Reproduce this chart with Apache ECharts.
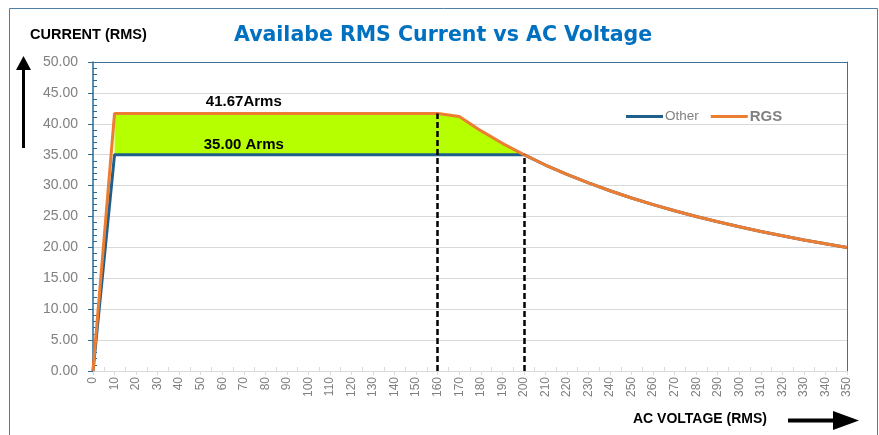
<!DOCTYPE html>
<html>
<head>
<meta charset="utf-8">
<script src="https://cdn.jsdelivr.net/npm/echarts@6/dist/echarts.min.js"></script>
<style>
  html, body { margin: 0; padding: 0; background: #fff; }
  #chart { width: 879px; height: 435px; }
</style>
</head>
<body>
<div id="chart"></div>
<script>
(function() {
  // voltage points (x) and currents (y)
  var voltRGS = [0, 10, 160, 170, 180, 190, 200, 210, 220, 230, 240, 250, 260, 270, 280, 290, 300, 310, 320, 330, 340, 350];
  var currRGS = [0, 41.67, 41.67, 41.18, 38.89, 36.84, 35.00, 33.33, 31.82, 30.43, 29.17, 28.00, 26.92, 25.93, 25.00, 24.14, 23.33, 22.58, 21.88, 21.21, 20.59, 20.00];

  var voltOther = [0, 10, 200, 210, 220, 230, 240, 250, 260, 270, 280, 290, 300, 310, 320, 330, 340, 350];
  var currOther = [0, 35.00, 35.00, 33.33, 31.82, 30.43, 29.17, 28.00, 26.92, 25.93, 25.00, 24.14, 23.33, 22.58, 21.88, 21.21, 20.59, 20.00];

  // green band between the two curves
  var voltBand = [10, 160, 170, 180, 190, 200];
  var bandBase = [35, 35, 35, 35, 35, 35];
  var bandTop = [41.67, 41.67, 41.18, 38.89, 36.84, 35.00];

  // dashed markers and text notes
  var dropLines = [[160, 41.67], [200, 35.00]];
  var notes = [[70, 43.6, '41.67Arms'], [70, 36.6, '35.00 Arms']];

  var zip = function(xs, ys) {
    return xs.map(function(x, i) { return [x, ys[i]]; });
  };

  var myChart = echarts.init(document.getElementById('chart'));

  var gridLine = '#d9d9d9';
  var frameBlue = '#3f7199';
  var axisBlue = '#2a6a96';
  var labelGrey = '#808080';

  var option = {
    animation: false,
    backgroundColor: '#fff',
    title: {
      text: 'Availabe RMS Current vs AC Voltage',
      left: 229,
      top: 20,
      textStyle: { color: '#0070c0', fontSize: 20.5, fontWeight: 'bold', fontFamily: 'DejaVu Sans' }
    },
    legend: {
      data: [
        { name: 'Other', textStyle: { fontSize: 13.5 } },
        { name: 'RGS', textStyle: { fontSize: 15, fontWeight: 'bold' } }
      ],
      left: 621,
      top: 104,
      icon: 'rect',
      itemWidth: 37,
      itemHeight: 3,
      itemGap: 12,
      textStyle: { color: labelGrey, fontFamily: 'Liberation Sans', padding: [0, 0, 0, -3] }
    },
    grid: { left: 93, right: 32, top: 62, bottom: 64 },
    xAxis: [
      {
        type: 'value', min: 0, max: 350, interval: 10, position: 'bottom',
        axisLine: { show: true, onZero: false, lineStyle: { color: gridLine } },
        axisTick: { show: true, length: 4, lineStyle: { color: gridLine } },
        axisLabel: { rotate: 90, color: labelGrey, fontSize: 12, margin: 6, fontFamily: 'Liberation Sans' },
        splitLine: { show: false }
      },
      {
        type: 'value', min: 0, max: 350, interval: 10, position: 'bottom',
        axisLine: { show: false, onZero: false },
        axisTick: { show: false, inside: true },
        axisLabel: { show: false },
        minorTick: { show: true, splitNumber: 2, length: 4, lineStyle: { color: gridLine } },
        splitLine: { show: false }
      },
      {
        type: 'value', min: 0, max: 350, position: 'top',
        axisLine: { show: true, onZero: false, lineStyle: { color: frameBlue } },
        axisTick: { show: false },
        axisLabel: { show: false },
        splitLine: { show: false }
      }
    ],
    yAxis: [
      {
        type: 'value', min: 0, max: 50, interval: 5, position: 'left',
        axisLine: { show: true, onZero: false, lineStyle: { color: axisBlue, width: 1.5 } },
        axisTick: { show: true, length: 5, lineStyle: { color: axisBlue } },
        axisLabel: {
          color: labelGrey, fontSize: 14, margin: 15, fontFamily: 'Liberation Sans',
          formatter: function(v) { return v.toFixed(2); }
        },
        splitLine: { show: true, lineStyle: { color: gridLine } }
      },
      {
        type: 'value', min: 0, max: 50, interval: 5, position: 'left',
        axisLine: { show: false, onZero: false },
        axisTick: { show: false, inside: true },
        axisLabel: { show: false },
        minorTick: { show: true, splitNumber: 5, length: 4, lineStyle: { color: axisBlue } },
        splitLine: { show: false }
      },
      {
        type: 'value', min: 0, max: 50, position: 'right',
        axisLine: { show: true, onZero: false, lineStyle: { color: frameBlue } },
        axisTick: { show: false },
        axisLabel: { show: false },
        splitLine: { show: false }
      }
    ],
    series: [
      {
        name: 'band',
        type: 'custom',
        z: 1,
        silent: true,
        xAxisIndex: 0,
        yAxisIndex: 0,
        data: voltBand.map(function(v, i) { return [v, bandTop[i], bandBase[i]]; }),
        renderItem: function(params, api) {
          if (params.dataIndex !== 0) return null;
          var pts = [];
          var i;
          for (i = 0; i < voltBand.length; i++) pts.push(api.coord([voltBand[i], bandTop[i]]));
          for (i = voltBand.length - 1; i >= 0; i--) pts.push(api.coord([voltBand[i], bandBase[i]]));
          return { type: 'polygon', shape: { points: pts }, style: { fill: '#b5ff00' } };
        },
        markLine: {
          silent: true,
          symbol: 'none',
          label: { show: false },
          lineStyle: { color: '#000', type: [6, 3], width: 2.5 },
          data: dropLines.map(function(p) {
            return [{ coord: [p[0], 0] }, { coord: [p[0], p[1]] }];
          })
        },
        markPoint: {
          symbol: 'circle',
          symbolSize: 0,
          label: {
            show: true, position: 'inside', color: '#000', fontSize: 15,
            fontWeight: 'bold', fontFamily: 'Liberation Sans',
            formatter: function(p) { return p.name; }
          },
          data: notes.map(function(n) { return { name: n[2], coord: [n[0], n[1]] }; })
        }
      },
      {
        name: 'Other',
        type: 'line',
        z: 2,
        showSymbol: false,
        color: '#1f5f8b',
        lineStyle: { width: 3, color: '#1f5f8b' },
        data: zip(voltOther, currOther)
      },
      {
        name: 'RGS',
        type: 'line',
        z: 3,
        showSymbol: false,
        color: '#ed7d31',
        lineStyle: { width: 3, color: '#ed7d31' },
        data: zip(voltRGS, currRGS)
      }
    ],
    graphic: [
      {
        type: 'rect', silent: true,
        shape: { x: 9.5, y: 8.5, width: 868, height: 440 },
        style: { fill: 'none', stroke: '#4d7fa6', lineWidth: 1 }
      },
      {
        type: 'text', left: 30, top: 27,
        style: { text: 'CURRENT (RMS)', fill: '#000', font: 'bold 14.5px "Liberation Sans"' }
      },
      {
        type: 'text', left: 633, top: 412,
        style: { text: 'AC VOLTAGE (RMS)', fill: '#000', font: 'bold 14px "Liberation Sans"' }
      },
      // up arrow
      {
        type: 'line', silent: true,
        shape: { x1: 23.5, y1: 148, x2: 23.5, y2: 68 },
        style: { stroke: '#000', lineWidth: 3 }
      },
      {
        type: 'polygon', silent: true,
        shape: { points: [[23.5, 56], [16, 70], [31, 70]] },
        style: { fill: '#000' }
      },
      // right arrow
      {
        type: 'line', silent: true,
        shape: { x1: 788, y1: 420.5, x2: 836, y2: 420.5 },
        style: { stroke: '#000', lineWidth: 4 }
      },
      {
        type: 'polygon', silent: true,
        shape: { points: [[859, 420.5], [833, 411], [833, 430]] },
        style: { fill: '#000' }
      }
    ]
  };

  myChart.setOption(option);

  window.addEventListener('resize', function() {
    myChart.resize();
  });
})();
</script>
</body>
</html>
